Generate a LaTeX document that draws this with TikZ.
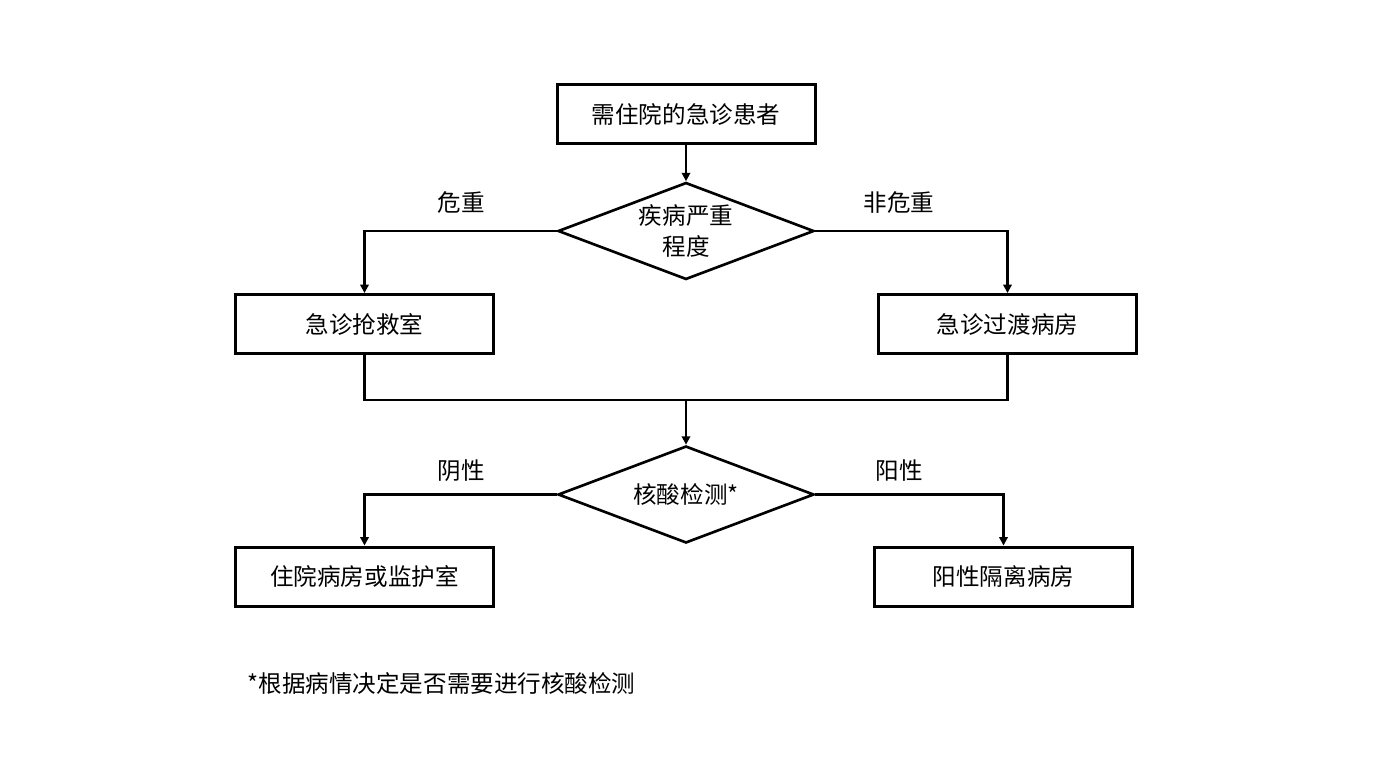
\documentclass[tikz,border=0pt]{standalone}
\usepackage{fontspec}
\setmainfont{Noto Sans CJK SC}
\usetikzlibrary{shapes.geometric,arrows.meta}

\begin{document}
\begin{tikzpicture}[
    x=1cm,y=1cm,
    line join=miter,
    every node/.style={font=\fontsize{6.7}{8.6}\selectfont},
    stepbox/.style={
        draw,
        line width=0.85pt,
        minimum width=2.58cm,
        minimum height=0.59cm,
        inner sep=0pt
    },
    decide/.style={
        diamond,
        draw,
        aspect=2.6,
        line width=0.75pt,
        minimum width=2.56cm,
        minimum height=0.97cm,
        inner sep=0pt,
        align=center
    },
    flow/.style={line width=0.8pt},
    arr/.style={flow,-{Triangle[length=2.4pt,width=2.4pt]}},
    lab/.style={inner sep=0pt}
]
\useasboundingbox (0,0) rectangle (13.8,-7.76);

% ============================================================
% nodes
% ============================================================

\node[stepbox] (patient) at (6.86,-1.14) {需住院的急诊患者};
\node[decide]  (severity) at (6.86,-2.31) {疾病严重\\程度};

\node[stepbox] (rescue) at (3.645,-3.24) {急诊抢救室};
\node[stepbox] (transit) at (10.075,-3.24) {急诊过渡病房};

\node[decide]  (nucleic) at (6.86,-4.945) {核酸检测*};

\node[stepbox] (ward) at (3.645,-5.765) {住院病房或监护室};
\node[stepbox] (isolate) at (10.035,-5.765) {阳性隔离病房};

% ============================================================
% branch labels
% ============================================================

\node[lab] (critical) at (4.61,-2.03) {危重};
\node[lab] (noncritical) at (8.99,-2.03) {非危重};
\node[lab] (negative) at (4.61,-4.71) {阴性};
\node[lab] (positive) at (8.99,-4.71) {阳性};

\node[lab,anchor=west] (footnote) at (2.47,-6.83)
    {*根据病情决定是否需要进行核酸检测};

% ============================================================
% connectors
% ============================================================

\draw[arr] (patient) -- (severity);
\draw[arr] (severity.west) -| (rescue.north);
\draw[arr] (severity.east) -| (transit.north);

\coordinate (join) at (6.86,-4.00);
\draw[flow] (rescue.south) |- (join) -| (transit.south);
\draw[arr] (join) -- (nucleic.north);

\draw[arr] (nucleic.west) -| (ward.north);
\draw[arr] (nucleic.east) -| (isolate.north);

\end{tikzpicture}
\end{document}
